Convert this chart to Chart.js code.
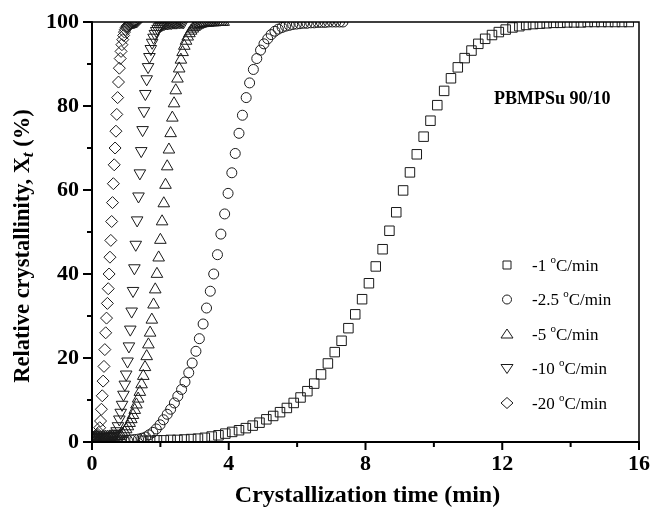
<!DOCTYPE html>
<html><head><meta charset="utf-8">
<script src="https://cdn.jsdelivr.net/npm/chart.js@4.4.0/dist/chart.umd.min.js"></script>
<style>html,body{margin:0;padding:0;background:#fff;}</style>
</head><body>
<canvas id="c" width="662" height="507" style="width:662px;height:507px;display:block"></canvas>
<script>
// ---------------- data ----------------
const rateLabels = ['-1', '-2.5', '-5', '-10', '-20'];
const xTickMajor = [0, 4, 8, 12, 16];
const xTickMinor = [2, 6, 10, 14];
const yTickMajor = [0, 20, 40, 60, 80, 100];
const yTickMinor = [10, 30, 50, 70, 90];

// -1 C/min (squares)
const t1 = [1.5,1.7,1.9,2.1,2.3,2.5,2.7,2.9,3.1,3.3,3.5,3.7,3.9,4.1,4.3,4.5,4.7,4.9,5.1,5.3,5.5,5.7,5.9,6.1,6.3,6.5,6.7,6.9,7.1,7.3,7.5,7.7,7.9,8.1,8.3,8.5,8.7,8.9,9.1,9.3,9.5,9.7,9.9,10.1,10.3,10.5,10.7,10.9,11.1,11.3,11.5,11.7,11.9,12.1,12.3,12.5,12.7,12.9,13.1,13.3,13.5,13.7,13.9,14.1,14.3,14.5,14.7,14.9,15.1,15.3,15.5,15.7];
const x1 = [0.3,0.3,0.4,0.4,0.5,0.5,0.6,0.7,0.8,1.0,1.3,1.6,2.0,2.4,2.8,3.3,3.9,4.6,5.4,6.2,7.1,8.1,9.3,10.6,12.1,13.9,16.1,18.7,21.4,24.1,27.1,30.4,34.0,37.8,41.8,45.9,50.3,54.7,59.9,64.2,68.5,72.7,76.5,80.2,83.6,86.6,89.2,91.4,93.2,94.8,96.0,96.9,97.6,98.2,98.7,99.0,99.3,99.5,99.6,99.7,99.8,99.8,99.9,99.9,99.9,100,100,100,100,100,100,100];

// -2.5 C/min (circles)
const t2 = [0.10,0.20,0.31,0.41,0.52,0.62,0.73,0.83,0.94,1.04,1.15,1.25,1.36,1.46,1.57,1.67,1.78,1.88,1.99,2.09,2.20,2.30,2.41,2.51,2.62,2.72,2.83,2.93,3.04,3.14,3.25,3.35,3.46,3.56,3.67,3.77,3.88,3.98,4.09,4.19,4.30,4.40,4.51,4.61,4.72,4.82,4.93,5.03,5.14,5.24,5.35,5.45,5.56,5.66,5.77,5.87,5.98,6.08,6.19,6.29,6.40,6.50,6.61,6.71,6.82,6.92,7.03,7.13,7.24,7.34];
const x2 = [0.0,0.0,0.0,0.1,0.1,0.1,0.2,0.2,0.3,0.4,0.5,0.6,0.7,0.9,1.2,1.7,2.3,3.1,4.1,5.3,6.6,7.8,9.3,10.9,12.5,14.3,16.5,18.8,21.6,24.6,28.1,31.9,35.9,40.0,44.6,49.5,54.3,59.2,64.1,68.7,73.5,77.8,82.0,85.5,88.7,91.3,93.3,94.8,96.0,97.0,97.8,98.3,98.7,99.0,99.2,99.4,99.5,99.6,99.7,99.7,99.8,99.8,99.9,99.9,99.9,100,100,100,100,100];

// -5 C/min (triangles)
const t3 = [0.00,0.05,0.10,0.15,0.20,0.25,0.30,0.35,0.40,0.45,0.50,0.55,0.60,0.65,0.70,0.75,0.80,0.85,0.90,0.95,1.00,1.05,1.10,1.15,1.20,1.25,1.30,1.35,1.40,1.45,1.50,1.55,1.60,1.65,1.70,1.75,1.80,1.85,1.90,1.95,2.00,2.05,2.10,2.15,2.20,2.25,2.30,2.35,2.40,2.45,2.50,2.55,2.60,2.65,2.70,2.75,2.80,2.85,2.90,2.95,3.00,3.05,3.10,3.15,3.20,3.25,3.30,3.35,3.40,3.45,3.50,3.55,3.60,3.65,3.70,3.75,3.80,3.85];
const x3 = [1.0,1.0,1.0,1.1,1.1,1.1,1.1,1.2,1.2,1.2,1.2,1.2,1.3,1.3,1.3,1.3,1.4,1.5,1.9,2.4,3.0,3.7,4.5,5.4,6.4,7.6,8.9,10.3,11.9,13.7,15.7,17.8,20.4,23.2,26.0,29.1,32.7,36.3,40.0,43.9,48.1,52.5,56.8,61.2,65.6,69.6,73.5,77.2,80.6,83.7,86.5,88.9,91.0,92.8,94.3,95.5,96.5,97.3,97.9,98.4,98.8,99.1,99.3,99.5,99.6,99.7,99.8,99.8,99.8,99.9,99.9,99.9,99.9,100,100,100,100,100];

// -10 C/min (inverted triangles)
const t4 = [0.00,0.04,0.08,0.12,0.16,0.20,0.24,0.28,0.32,0.36,0.40,0.44,0.48,0.52,0.56,0.60,0.64,0.68,0.72,0.76,0.80,0.84,0.88,0.92,0.96,1.00,1.04,1.08,1.12,1.16,1.20,1.24,1.28,1.32,1.36,1.40,1.44,1.48,1.52,1.56,1.60,1.64,1.68,1.72,1.76,1.80,1.84,1.88,1.92,1.96,2.00,2.04,2.08,2.12,2.16,2.20,2.24,2.28,2.32,2.36,2.40,2.44,2.48,2.52,2.56,2.60,2.64,2.68];
const x4 = [1.0,1.0,1.0,1.1,1.1,1.1,1.1,1.2,1.2,1.2,1.2,1.2,1.3,1.3,1.3,1.4,1.5,2.0,2.6,3.8,5.4,7.0,8.9,11.3,13.7,16.1,19.2,22.8,26.8,31.1,36.0,41.4,47.0,52.8,58.5,64.0,69.3,74.3,78.8,82.9,86.4,89.3,91.7,93.6,95.1,96.3,97.2,97.9,98.4,98.8,99.1,99.3,99.5,99.6,99.7,99.7,99.8,99.8,99.8,99.9,99.9,99.9,99.9,100,100,100,100,100];

// -20 C/min (diamonds)
const t5 = [0.050,0.075,0.100,0.125,0.150,0.175,0.200,0.225,0.250,0.275,0.300,0.325,0.350,0.375,0.400,0.425,0.450,0.475,0.500,0.525,0.550,0.575,0.600,0.625,0.650,0.675,0.700,0.725,0.750,0.775,0.800,0.825,0.850,0.875,0.900,0.925,0.950,0.975,1.000,1.025,1.050,1.075,1.100,1.125,1.150,1.175,1.200,1.225,1.250,1.275,1.300];
const x5 = [0.9,1.0,1.1,1.3,1.5,1.8,2.3,3.4,5.0,7.8,11.0,14.5,18.0,22.0,26.0,29.5,33.0,36.5,40.0,44.0,48.0,52.5,57.0,61.5,66.0,70.0,74.0,78.0,82.0,85.7,89.0,91.3,93.0,94.6,95.8,96.8,97.6,98.2,98.7,99.0,99.2,99.4,99.5,99.6,99.7,99.8,99.8,99.9,99.9,100,100];

const seriesT = [t1, t2, t3, t4, t5];
const seriesX = [x1, x2, x3, x4, x5];
const styles = [
  {pointStyle: 'rect', radius: 6.7, rotation: 0},
  {pointStyle: 'circle', radius: 5, rotation: 0},
  {pointStyle: 'triangle', radius: 6.7, rotation: 0},
  {pointStyle: 'triangle', radius: 6.7, rotation: 180},
  {pointStyle: 'rectRot', radius: 6, rotation: 0}
];
const INK = '#1a1a1a';
const FONT = '"Liberation Serif", "Times New Roman", serif';

const datasets = seriesT.map((ts, i) => ({
  label: rateLabels[i] + ' \u00B0C/min',
  data: ts.map((t, j) => ({x: t, y: seriesX[i][j]})),
  showLine: false,
  pointStyle: styles[i].pointStyle,
  pointRadius: styles[i].radius,
  pointRotation: styles[i].rotation,
  pointBorderColor: INK,
  pointBackgroundColor: 'rgba(0,0,0,0)',
  pointBorderWidth: 1,
  pointHoverRadius: styles[i].radius,
  clip: 0
}));

function drawSym(ctx, k, cx, cy) {
  ctx.beginPath();
  if (k === 0) { ctx.rect(cx - 4, cy - 4, 8, 8); }
  else if (k === 1) { ctx.arc(cx, cy, 4.5, 0, Math.PI * 2); }
  else if (k === 2) { ctx.moveTo(cx, cy - 5); ctx.lineTo(cx + 6, cy + 4); ctx.lineTo(cx - 6, cy + 4); ctx.closePath(); }
  else if (k === 3) { ctx.moveTo(cx, cy + 5); ctx.lineTo(cx + 6, cy - 4); ctx.lineTo(cx - 6, cy - 4); ctx.closePath(); }
  else { ctx.moveTo(cx, cy - 5.5); ctx.lineTo(cx + 6, cy); ctx.lineTo(cx, cy + 5.5); ctx.lineTo(cx - 6, cy); ctx.closePath(); }
  ctx.stroke();
}

const decor = {
  id: 'decor',
  afterDraw(chart) {
    const {ctx, chartArea: a, scales: {x, y}} = chart;
    ctx.save();
    ctx.strokeStyle = '#000';
    ctx.lineCap = 'butt';
    // frame top/right
    ctx.lineWidth = 1.5;
    ctx.beginPath();
    ctx.moveTo(a.left, a.top); ctx.lineTo(a.right, a.top); ctx.lineTo(a.right, a.bottom);
    ctx.stroke();
    // axes left/bottom
    ctx.lineWidth = 2;
    ctx.beginPath();
    ctx.moveTo(a.left, a.top - 0.75); ctx.lineTo(a.left, a.bottom); ctx.lineTo(a.right + 0.75, a.bottom);
    ctx.stroke();
    // ticks
    ctx.lineWidth = 2;
    ctx.beginPath();
    xTickMajor.forEach(v => { const p = x.getPixelForValue(v); ctx.moveTo(p, a.bottom); ctx.lineTo(p, a.bottom + 8); });
    xTickMinor.forEach(v => { const p = x.getPixelForValue(v); ctx.moveTo(p, a.bottom); ctx.lineTo(p, a.bottom + 5); });
    yTickMajor.forEach(v => { const p = y.getPixelForValue(v); ctx.moveTo(a.left, p); ctx.lineTo(a.left - 9, p); });
    yTickMinor.forEach(v => { const p = y.getPixelForValue(v); ctx.moveTo(a.left, p); ctx.lineTo(a.left - 5, p); });
    ctx.stroke();

    ctx.fillStyle = '#000';
    // x title
    ctx.font = 'bold 24px ' + FONT;
    ctx.textAlign = 'center';
    ctx.textBaseline = 'alphabetic';
    ctx.fillText('Crystallization time (min)', (a.left + a.right) / 2 + 2, 502);

    // y title with subscript
    ctx.save();
    ctx.translate(29, 246);
    ctx.rotate(-Math.PI / 2);
    ctx.textAlign = 'left';
    const p1 = 'Relative crystallinity, X';
    const p2 = 't';
    const p3 = ' (%)';
    const fMain = 'bold 22.5px ' + FONT;
    const fSub = 'bold italic 17px ' + FONT;
    ctx.font = fMain; const w1 = ctx.measureText(p1).width; const w3 = ctx.measureText(p3).width;
    ctx.font = fSub; const w2 = ctx.measureText(p2).width;
    let sx = -(w1 + w2 + w3) / 2;
    ctx.font = fMain; ctx.fillText(p1, sx, 0); sx += w1;
    ctx.font = fSub; ctx.fillText(p2, sx, 4); sx += w2;
    ctx.font = fMain; ctx.fillText(p3, sx, 0);
    ctx.restore();

    // annotation
    ctx.font = 'bold 18px ' + FONT;
    ctx.textAlign = 'left';
    ctx.fillText('PBMPSu 90/10', 494, 103.5);

    // legend
    const rowY = [265, 299.5, 334, 368.5, 403];
    ctx.strokeStyle = INK;
    ctx.lineWidth = 1;
    rateLabels.forEach((lab, i) => {
      const cy = rowY[i];
      drawSym(ctx, i, 507, cy);
      let tx = 532;
      const base = cy + 5.8;
      ctx.font = '17px ' + FONT;
      const s1 = lab + ' ';
      ctx.fillText(s1, tx, base); tx += ctx.measureText(s1).width;
      ctx.font = '11px ' + FONT;
      ctx.fillText('o', tx, base - 8); tx += ctx.measureText('o').width;
      ctx.font = '17px ' + FONT;
      ctx.fillText('C/min', tx, base);
    });
    ctx.restore();
  }
};

new Chart(document.getElementById('c'), {
  type: 'scatter',
  data: {datasets},
  options: {
    responsive: false,
    devicePixelRatio: 1,
    animation: false,
    events: [],
    layout: {padding: {left: 0, right: 23, top: 22, bottom: 0}},
    plugins: {legend: {display: false}, tooltip: {enabled: false}, title: {display: false}},
    scales: {
      x: {
        type: 'linear', min: 0, max: 16,
        afterFit: s => { s.height = 65; s.paddingLeft = 0; s.paddingRight = 0; },
        ticks: {stepSize: 4, color: '#000', padding: 9, maxRotation: 0,
          font: {family: FONT, weight: 'bold', size: 22}},
        grid: {display: false, drawTicks: false},
        border: {display: false}
      },
      y: {
        type: 'linear', min: 0, max: 100,
        afterFit: s => { s.width = 92; s.paddingTop = 0; s.paddingBottom = 0; },
        ticks: {stepSize: 20, color: '#000', padding: 13,
          font: {family: FONT, weight: 'bold', size: 22}},
        grid: {display: false, drawTicks: false},
        border: {display: false}
      }
    }
  },
  plugins: [decor]
});
</script>
</body></html>
